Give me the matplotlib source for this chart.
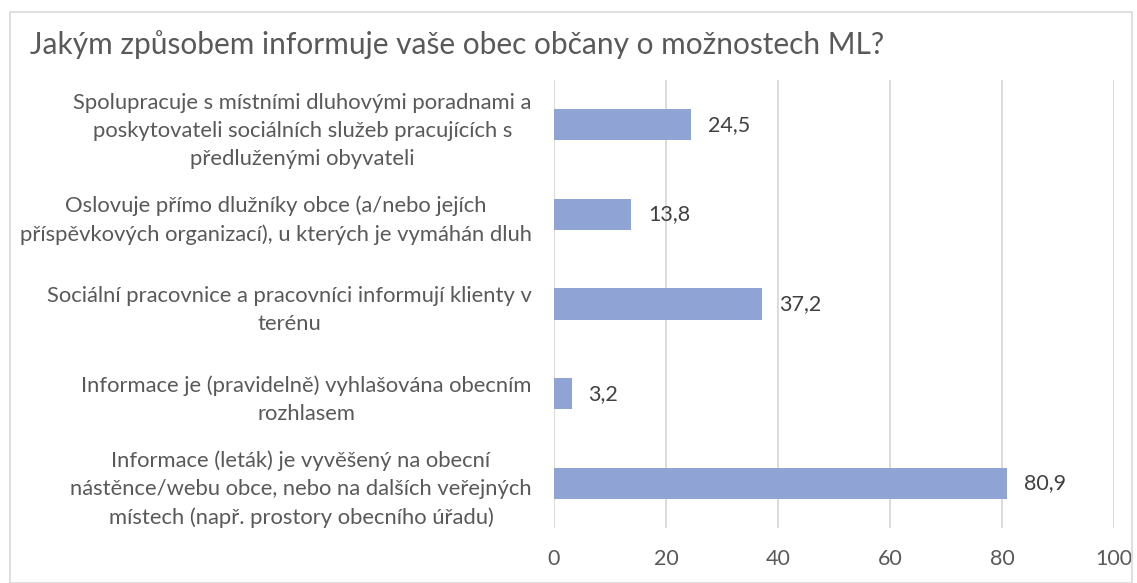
import numpy as np
import matplotlib.pyplot as plt
from matplotlib.patches import Rectangle

plt.rcParams['font.family'] = ['Lato', 'DejaVu Sans']

title = 'Jakým způsobem informuje vaše obec občany o možnostech ML?'
categories = [
    'Spolupracuje s místními dluhovými poradnami a\nposkytovateli sociálních služeb pracujících s\npředluženými obyvateli',
    'Oslovuje přímo dlužníky obce (a/nebo jejích\npříspěvkových organizací), u kterých je vymáhán dluh',
    'Sociální pracovnice a pracovníci informují klienty v\nterénu',
    'Informace je (pravidelně) vyhlašována obecním\nrozhlasem',
    'Informace (leták) je vyvěšený na obecní\nnástěnce/webu obce, nebo na dalších veřejných\nmístech (např. prostory obecního úřadu)',
]
values = [24.5, 13.8, 37.2, 3.2, 80.9]
xticks = [0, 20, 40, 60, 80, 100]

bar_color = '#8FA3D4'
text_color = '#595959'

fig = plt.figure(figsize=(11.37, 5.83), dpi=100)
ax = fig.add_axes([554 / 1137, 1 - 528 / 583, (1114 - 554) / 1137, (528 - 80) / 583])

y = np.arange(len(values))
ax.barh(y, values, height=0.35, color=bar_color, zorder=3)
ax.set_ylim(len(values) - 0.5, -0.5)
ax.set_xlim(0, 100)
ax.set_xticks(xticks)
ax.set_xticklabels([str(t) for t in xticks])
ax.set_yticks(y)
ax.set_yticklabels(categories, multialignment='center', linespacing=1.5)
ax.tick_params(axis='y', length=0, pad=16, labelsize=15.8, labelcolor=text_color)
ax.tick_params(axis='x', length=0, pad=15, labelsize=15.5, labelcolor=text_color)
ax.grid(axis='x', color='#D9D9D9', linewidth=1.3, zorder=0)
for s in ax.spines.values():
    s.set_visible(False)

for yi, v in zip(y, values):
    ax.annotate(f'{v:.1f}'.replace('.', ','), (v, yi), xytext=(12, 0),
                textcoords='offset points', va='center', ha='left',
                fontsize=15.5, color='#404040')

fig.text(30 / 1137, 1 - 45 / 583, title, fontsize=21.5, color=text_color,
         va='center', ha='left')

fig.patches.append(Rectangle((10 / 1137, 0), 1122 / 1137, 1 - 12 / 583,
                             transform=fig.transFigure, fill=False,
                             edgecolor='#D9D9D9', linewidth=1.2))

fig.savefig('out.png', dpi=100)
